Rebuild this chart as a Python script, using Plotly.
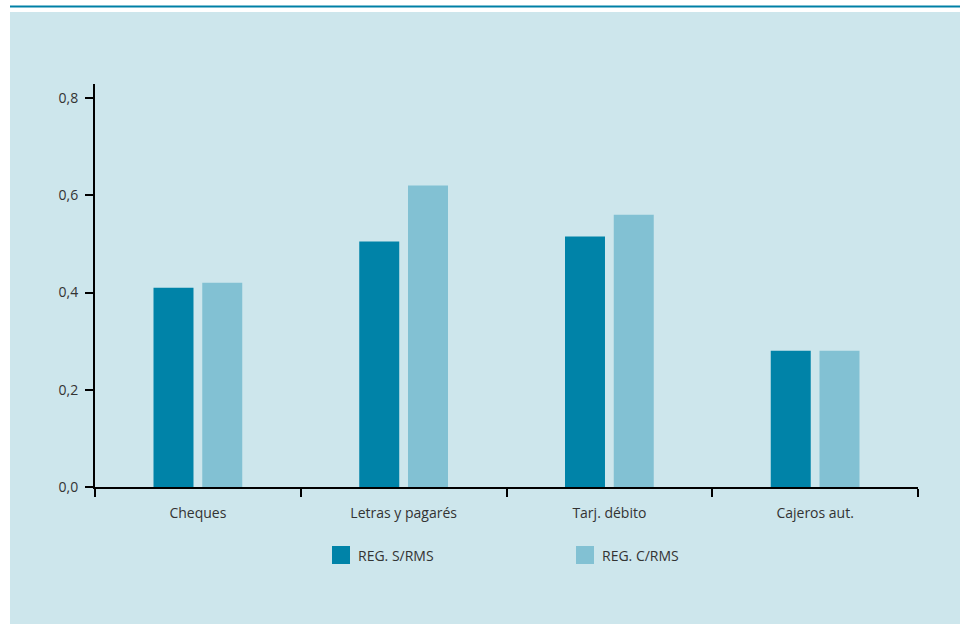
import plotly.graph_objects as go

# Data
categories = ["Cheques", "Letras y pagarés", "Tarj. débito", "Cajeros aut."]
reg_sin_rms = [0.41, 0.505, 0.515, 0.28]
reg_con_rms = [0.42, 0.62, 0.56, 0.28]
series_names = ["REG. S/RMS", "REG. C/RMS"]
y_ticks = [0.0, 0.2, 0.4, 0.6, 0.8]

DARK = "#0083a8"
LIGHT = "#82c1d3"
PANEL = "#cde6ec"
TEXT = "#333333"
FONT = "Open Sans"

W, H = 960, 624
L, R, T, B = 95, 42, 84, 137
PW, PH = W - L - R, H - T - B


def px_x(px):
    return (px - L) / PW


def px_y(py):
    return (H - B - py) / PH


fig = go.Figure()
for name, vals, col in [(series_names[0], reg_sin_rms, DARK),
                        (series_names[1], reg_con_rms, LIGHT)]:
    fig.add_trace(go.Bar(x=categories, y=vals, name=name,
                         marker=dict(color=col, line=dict(width=0)),
                         showlegend=False))

shapes = [
    # background panel
    dict(type="rect", xref="paper", yref="paper", layer="below",
         x0=px_x(10), x1=px_x(960), y0=px_y(624), y1=px_y(12),
         fillcolor=PANEL, line=dict(width=0)),
    # top rule
    dict(type="line", xref="paper", yref="paper",
         x0=px_x(10), x1=px_x(960), y0=px_y(6.5), y1=px_y(6.5),
         line=dict(color="#0080a6", width=2)),
]
annotations = []

# legend swatches and labels
legend_x = [332, 576]
for name, col, lx in zip(series_names, [DARK, LIGHT], legend_x):
    shapes.append(dict(type="rect", xref="paper", yref="paper",
                       x0=px_x(lx), x1=px_x(lx + 18),
                       y0=px_y(564), y1=px_y(546),
                       fillcolor=col, line=dict(width=0)))
    annotations.append(dict(xref="paper", yref="paper",
                            x=px_x(lx + 24), y=px_y(555),
                            text=name, showarrow=False,
                            xanchor="left", yanchor="middle",
                            font=dict(family=FONT, size=14, color=TEXT)))

y_top = 0.8 * PH / (H - B - 98)

fig.update_layout(
    width=W, height=H,
    margin=dict(l=L, r=R, t=T, b=B, pad=0),
    paper_bgcolor="white",
    plot_bgcolor="rgba(0,0,0,0)",
    separators=",.",
    barmode="group",
    bargap=0.526,
    bargroupgap=0.18,
    font=dict(family=FONT, size=14, color=TEXT),
    shapes=shapes,
    annotations=annotations,
    xaxis=dict(
        showline=True, linecolor="black", linewidth=2,
        ticks="outside", ticklen=8, tickwidth=2, tickcolor="black",
        tickson="boundaries", showgrid=False, zeroline=False,
        ticklabelstandoff=12,
        tickfont=dict(family=FONT, size=14, color=TEXT),
        range=[-0.5, 3.5],
    ),
    yaxis=dict(
        range=[0, y_top],
        tickvals=y_ticks, tickformat=".1f",
        showline=True, linecolor="black", linewidth=2,
        ticks="outside", ticklen=8, tickwidth=2, tickcolor="black",
        showgrid=False, zeroline=False,
        ticklabelstandoff=4,
        tickfont=dict(family=FONT, size=14, color=TEXT),
    ),
)

fig.write_html("out.html")
